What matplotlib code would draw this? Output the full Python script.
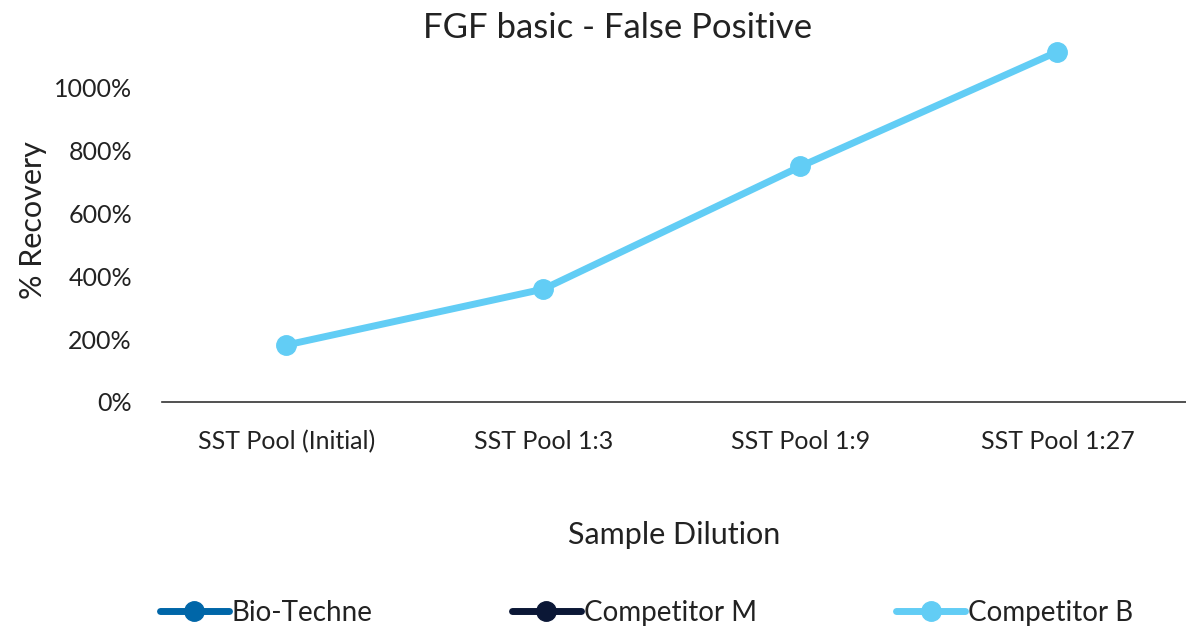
import numpy as np
import matplotlib as mpl
mpl.use('Agg')
import matplotlib.pyplot as plt
from matplotlib.ticker import FuncFormatter

mpl.rcParams.update({'font.family': ['Lato', 'DejaVu Sans']})

# data
categories = ['SST Pool (Initial)', 'SST Pool 1:3', 'SST Pool 1:9', 'SST Pool 1:27']
bio_techne = [np.nan, np.nan, np.nan, np.nan]
competitor_m = [np.nan, np.nan, np.nan, np.nan]
competitor_b = [181, 359, 749, 1114]

series = [('Bio-Techne', bio_techne, '#0066a8'),
          ('Competitor M', competitor_m, '#0b1736'),
          ('Competitor B', competitor_b, '#62cdf5')]

txt = '#222222'

fig = plt.figure(figsize=(11.86, 6.31), dpi=100)
ax = fig.add_axes([0.137, 0.363, 0.863, 0.578])

x = np.arange(len(categories))
for name, vals, col in series:
    ax.plot(x, vals, color=col, lw=5, marker='o', markersize=14,
            label=name, solid_capstyle='round')

ax.set_xlim(-0.482, 3.5)
ax.set_ylim(0, 1160)
ax.set_yticks(np.arange(0, 1001, 200))
ax.yaxis.set_major_formatter(FuncFormatter(lambda v, p: f'{v:.0f}%'))
ax.set_xticks(x)
ax.set_xticklabels(categories)

for s in ['top', 'right', 'left']:
    ax.spines[s].set_visible(False)
ax.spines['bottom'].set_color('#333333')
ax.spines['bottom'].set_linewidth(1.2)
ax.tick_params(axis='both', length=0, labelsize=18, colors=txt)
ax.tick_params(axis='x', pad=20)
ax.tick_params(axis='y', pad=22)

fig.text(0.521, 1 - 28 / 631, 'FGF basic - False Positive', fontsize=25,
         color=txt, ha='center', va='center')
ax.set_ylabel('% Recovery', fontsize=22, color=txt, labelpad=5)
ax.set_xlabel('Sample Dilution', fontsize=22, color=txt, labelpad=49)

fig.legend(loc='center', bbox_to_anchor=(0.545, 1 - 613 / 631), ncol=3,
           frameon=False, fontsize=20, columnspacing=5.0, handlelength=2.5,
           handletextpad=0.1, labelcolor=txt)

fig.savefig('out.png', dpi=100)
plt.close(fig)
